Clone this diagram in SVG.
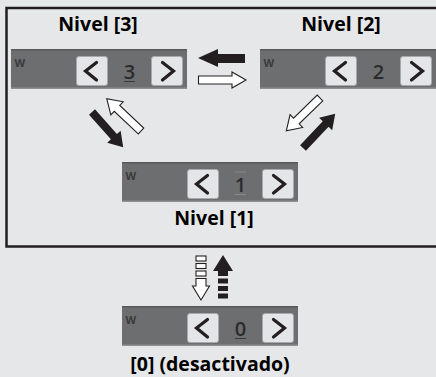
<svg xmlns="http://www.w3.org/2000/svg" xmlns:xlink="http://www.w3.org/1999/xlink" width="436" height="377" viewBox="0 0 436 377">
<style>
.bg{fill:#e6e7e8}
.frame{fill:none;stroke:#231f20;stroke-width:2.5}
.wbody{fill:#6d6e70}
.wtop{stroke:#58595b;stroke-width:1.5}
.wbot{stroke:#8e8f91;stroke-width:1.5}
.btn{fill:#e4e5e6;stroke:#a7a9ac;stroke-width:1}
.chev{fill:none;stroke:#231f20;stroke-width:3.2;stroke-linecap:round;stroke-linejoin:miter}
.wl{font-family:"Open Sans","DejaVu Sans",sans-serif;font-size:11px;font-weight:bold;fill:#3a3a3c}
.num{font-family:"Open Sans","DejaVu Sans",sans-serif;font-size:20px;font-weight:600;fill:#2b2b2d;text-anchor:middle}
.ul{stroke:#3a3a3c;stroke-width:1}
.title{font-family:"Open Sans","DejaVu Sans",sans-serif;font-size:19.5px;font-weight:bold;fill:#000;text-anchor:middle}
.blk{fill:#231f20}
.wht{fill:#fff;stroke:#231f20;stroke-width:1.1;stroke-linejoin:miter}
</style>
<defs>
<g id="widget">
<rect class="wbody" x="0" y="0" width="176" height="40"/>
<line class="wtop" x1="0" y1="0.75" x2="176" y2="0.75"/>
<line class="wbot" x1="0" y1="39.25" x2="176" y2="39.25"/>
<text class="wl" x="3.5" y="17.5">W</text>
<rect class="btn" x="65.5" y="7.5" width="31" height="29" rx="2.5"/>
<polyline class="chev" points="85.5,13.5 74.5,22 85.5,31"/>
<rect class="btn" x="140.5" y="7.5" width="31" height="29" rx="2.5"/>
<polyline class="chev" points="151.5,13.5 162.5,22 151.5,31"/>
</g>
<polygon id="arr" points="0,-4 33,-4 33,-9 47,0 33,9 33,4 0,4"/>
</defs>
<rect class="bg" x="0" y="0" width="436" height="377"/>
<path class="frame" d="M440,8 H6.5 V246.5 H440"/>

<g id="node3">
<use href="#widget" x="11" y="49"/>
<text class="num" x="129.5" y="79">3</text>
<line class="ul" x1="124" y1="81.5" x2="135" y2="81.5"/>
<text class="title" x="98" y="31">Nivel [3]</text>
</g>
<g id="node2">
<use href="#widget" x="260" y="49"/>
<text class="num" x="378.5" y="79">2</text>
<text class="title" x="341" y="31">Nivel [2]</text>
</g>
<g id="node1">
<use href="#widget" x="122" y="162"/>
<text class="num" x="240.5" y="192">1</text>
<line stroke="#8e8f91" stroke-width="0.8" x1="235" y1="172" x2="246" y2="172"/>
<line stroke="#8e8f91" stroke-width="0.8" x1="235" y1="194.5" x2="246" y2="194.5"/>
<text class="title" x="214" y="225">Nivel [1]</text>
</g>
<g id="node0">
<use href="#widget" x="122" y="306"/>
<text class="num" x="240.5" y="336">0</text>
<line class="ul" x1="235" y1="338.5" x2="246" y2="338.5"/>
<text class="title" x="210" y="371">[0] (desactivado)</text>
</g>

<g id="connectors">
<polygon class="blk" points="198,58 218,49 218,54 245,54 245,63 218,63 218,67"/>
<polygon class="wht" points="246,80 232,72 232,76 198.5,76 198.5,84 232,84 232,88"/>
<use href="#arr" class="blk" transform="translate(92,112) rotate(48.4)"/>
<use href="#arr" class="wht" transform="translate(141,131) rotate(-136.7)"/>
<use href="#arr" class="wht" transform="translate(320,98) rotate(135.8)"/>
<use href="#arr" class="blk" transform="translate(303,148) rotate(-46.7)"/>
<g class="wht">
<rect x="196" y="256" width="10" height="5"/>
<rect x="196" y="263.5" width="10" height="5"/>
<rect x="196" y="271" width="10" height="5"/>
<polygon points="196,278.5 206,278.5 206,286 209.5,286 201,300 192.5,286 196,286"/>
</g>
<g class="blk">
<polygon points="223,255 233,271 228,271 228,276 218,276 218,271 213,271"/>
<rect x="218" y="278.5" width="10" height="5"/>
<rect x="218" y="286" width="10" height="5"/>
<rect x="218" y="293.5" width="10" height="5"/>
</g>
</g>
</svg>
